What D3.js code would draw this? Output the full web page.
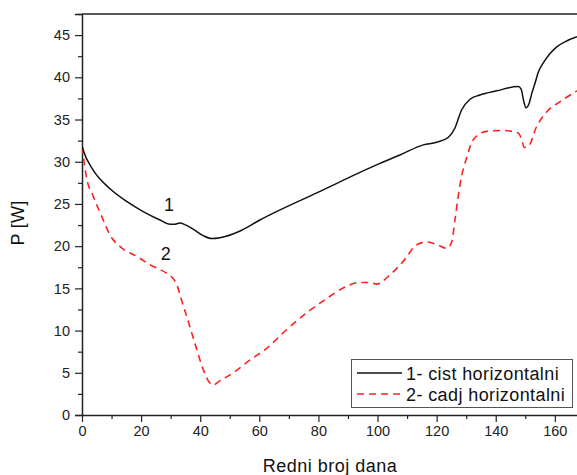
<!DOCTYPE html>
<html>
<head>
<meta charset="utf-8">
<script src="https://cdn.jsdelivr.net/npm/d3@7"></script>
<style>
  html, body { margin: 0; padding: 0; background: #fff; }
  svg { display: block; font-family: Arial, "Liberation Sans", sans-serif; }
</style>
</head>
<body>
<svg id="chart" width="577" height="475"></svg>
<script>
// ---- data ----
const xTicksMajor = [0, 20, 40, 60, 80, 100, 120, 140, 160];
const xTicksMinor = [10, 30, 50, 70, 90, 110, 130, 150];
const yTicksMajor = [0, 5, 10, 15, 20, 25, 30, 35, 40, 45];
const yTicksMinor = [2.5, 7.5, 12.5, 17.5, 22.5, 27.5, 32.5, 37.5, 42.5, 47.5];

const series1Name = "1- cist horizontalni";
const series1X = [0, 0.4, 3.8, 9.5, 15.1, 20.7, 26.4, 29.8, 31.5, 33.2, 34.8, 37.7, 41.0, 43.9, 46.7, 53.5, 60.2, 80, 100.8, 107.6, 115.5, 120, 124, 126.2, 128.4, 131.3, 134.6, 140.3, 147.6, 148.6, 149.4, 150.2, 151.3, 152.2, 153.3, 154.4, 156.1, 158.3, 161, 164, 167.5];
const series1Y = [31.9, 31.4, 29.0, 26.8, 25.3, 24.1, 23.1, 22.6, 22.6, 22.75, 22.55, 22.0, 21.25, 20.9, 21.0, 21.8, 23.1, 26.4, 29.8, 30.8, 32.0, 32.3, 32.9, 34.0, 36.1, 37.4, 37.9, 38.4, 38.9, 38.6, 37.3, 36.4, 36.9, 38.1, 39.3, 40.6, 41.7, 42.8, 43.7, 44.3, 44.8];

const series2Name = "2- cadj horizontalni";
const series2X = [0, 1.6, 3.8, 6.7, 9.5, 13.4, 18.5, 23.0, 28.6, 30.5, 32.0, 33.7, 35.4, 38.2, 41.0, 43.0, 44.5, 46.0, 51.2, 56.8, 62.5, 69.2, 76.0, 82.8, 89.3, 94.0, 97.5, 99.7, 104.2, 108.7, 113.2, 116.6, 120, 123.4, 125.1, 126.2, 127.3, 128.4, 130.0, 132.4, 136.9, 142.5, 147.6, 148.8, 149.6, 151.0, 153.8, 157.2, 161.7, 167.5];
const series2Y = [31.8, 28.0, 25.9, 23.5, 21.3, 19.8, 18.8, 17.8, 16.8, 16.3, 15.5, 13.6, 11.7, 8.5, 5.4, 3.9, 3.55, 3.9, 5.0, 6.5, 7.9, 10.1, 12.1, 13.8, 15.2, 15.7, 15.7, 15.5, 16.6, 18.2, 20.15, 20.5, 20.2, 19.75, 20.5, 23.1, 25.9, 28.2, 30.3, 32.6, 33.6, 33.7, 33.4, 32.6, 31.7, 31.8, 34.15, 35.9, 37.1, 38.4];

const xLabel = "Redni broj dana";
const yLabel = "P [W]";
const curveLabels = [{text: "1", x: 29.4, y: 24.2}, {text: "2", x: 28.3, y: 18.4}];

// ---- layout ----
const svg = d3.select("#chart");
const mLeft = 82, mRight = 577, mTop = 14, mBottom = 415;
const x = d3.scaleLinear().domain([0, 167.5]).range([mLeft, mRight]);
const y = d3.scaleLinear().domain([0, 47.5]).range([mBottom, mTop]);
const axisColor = "#222";

svg.append("defs").append("clipPath").attr("id", "clip")
  .append("rect").attr("x", mLeft).attr("y", mTop).attr("width", mRight - mLeft + 5).attr("height", mBottom - mTop);

// frame (top border)
svg.append("line").attr("x1", mLeft).attr("x2", 580).attr("y1", mTop).attr("y2", mTop)
  .attr("stroke", axisColor).attr("stroke-width", 1.5);

// x axis
const gx = svg.append("g").attr("transform", `translate(0,${mBottom})`);
gx.call(d3.axisBottom(x).tickValues(xTicksMajor).tickSize(7).tickPadding(4).tickFormat(d3.format("d")));
const gxm = svg.append("g").attr("transform", `translate(0,${mBottom})`);
gxm.call(d3.axisBottom(x).tickValues(xTicksMinor).tickSize(4).tickFormat(""));
gxm.select(".domain").remove();

// y axis
const gy = svg.append("g").attr("transform", `translate(${mLeft},0)`);
gy.call(d3.axisLeft(y).tickValues(yTicksMajor).tickSize(7).tickPadding(5).tickFormat(d3.format("d")));
const gym = svg.append("g").attr("transform", `translate(${mLeft},0)`);
gym.call(d3.axisLeft(y).tickValues(yTicksMinor).tickSize(4).tickFormat(""));
gym.select(".domain").remove();

svg.selectAll(".domain").attr("stroke", axisColor).attr("stroke-width", 1.5);
svg.selectAll(".tick line").attr("stroke", axisColor).attr("stroke-width", 1.2);
svg.selectAll(".tick text").attr("fill", "#222").style("font-size", "14.5px")
  .style("font-family", "Arial, 'Liberation Sans', sans-serif");
gx.select(".domain").attr("d", `M${mLeft},0.5H580`);

// lines
const line = d3.line().x(d => x(d[0])).y(d => y(d[1])).curve(d3.curveMonotoneX);
const d1 = series1X.map((v, i) => [v, series1Y[i]]);
const d2 = series2X.map((v, i) => [v, series2Y[i]]);
const plot = svg.append("g").attr("clip-path", "url(#clip)");
plot.append("path").attr("d", line(d2)).attr("fill", "none").attr("stroke", "#ff2020")
  .attr("stroke-width", 1.6).attr("stroke-dasharray", "7,5");
plot.append("path").attr("d", line(d1)).attr("fill", "none").attr("stroke", "#111")
  .attr("stroke-width", 1.5);

// curve labels
svg.selectAll(".clab").data(curveLabels).join("text")
  .attr("x", d => x(d.x)).attr("y", d => y(d.y))
  .attr("text-anchor", "middle").style("font-size", "18px").attr("fill", "#111")
  .text(d => d.text);

// axis labels
svg.append("text").attr("x", 330).attr("y", 472).attr("text-anchor", "middle")
  .style("font-size", "18px").style("letter-spacing", "0.5px").attr("fill", "#111").text(xLabel);
svg.append("text").attr("transform", "translate(24,223) rotate(-90)").attr("text-anchor", "middle")
  .style("font-size", "18px").style("letter-spacing", "0.3px").attr("fill", "#111").text(yLabel);

// legend
const lg = svg.append("g");
lg.append("rect").attr("x", 351.5).attr("y", 359.5).attr("width", 221).attr("height", 48)
  .attr("fill", "#fff").attr("stroke", "#555").attr("stroke-width", 1);
const legendItems = [
  {name: series1Name, color: "#111", dash: null, yy: 373},
  {name: series2Name, color: "#ff2020", dash: "7,5", yy: 394}
];
legendItems.forEach(it => {
  lg.append("line").attr("x1", 357).attr("x2", 402).attr("y1", it.yy).attr("y2", it.yy)
    .attr("stroke", it.color).attr("stroke-width", 1.5).attr("stroke-dasharray", it.dash);
  lg.append("text").attr("x", 406).attr("y", it.yy + 6.5).style("font-size", "18px")
    .style("letter-spacing", "0.4px").attr("fill", "#111").text(it.name);
});
</script>
</body>
</html>
